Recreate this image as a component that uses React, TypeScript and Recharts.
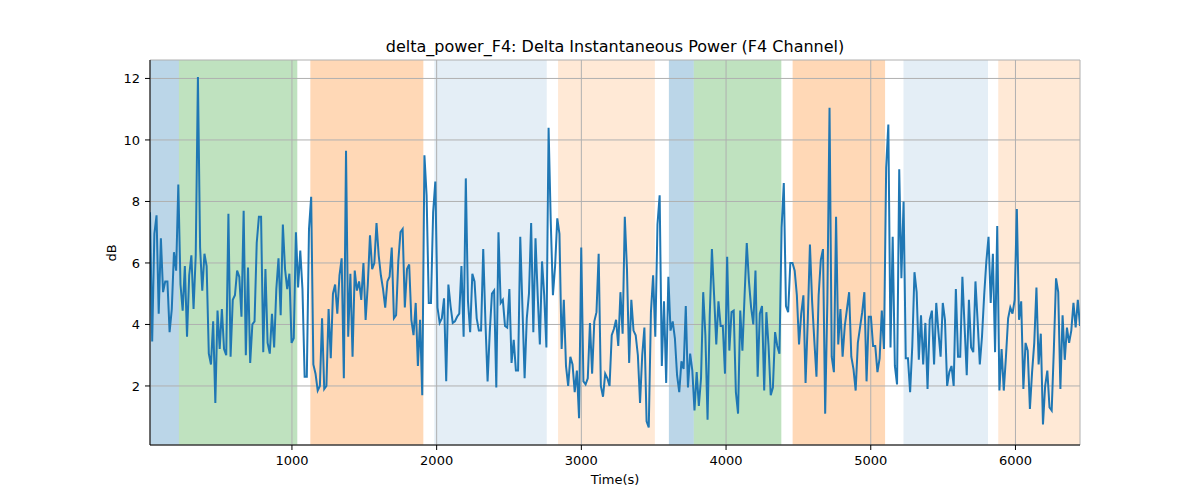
import React from 'react';
import { LineChart, Line, XAxis, YAxis, CartesianGrid, ReferenceArea } from 'recharts';

// delta power (dB) in eight chunks, left to right
const seg1 = [7.65, 3.45, 6.95, 7.55, 4.35, 6.8, 5.05, 5.4, 5.4, 3.75, 4.5, 6.35, 5.75, 8.55, 5.3, 4.45, 5.9, 3.6, 5.6, 6.25, 4.5, 6.25, 12.05, 6.5, 5.1, 6.3, 5.9, 3.05, 2.7, 4.1, 1.45, 4.45, 3.2, 4.5, 3.2, 3.0, 7.6, 2.95, 4.8, 4.95, 5.75, 5.55, 4.25, 7.7, 3.0, 5.85, 2.75, 4.0, 4.1, 6.65, 7.5, 7.5, 3.1, 5.8];
const seg2 = [3.4, 3.05, 4.35, 3.25, 5.15, 6.15, 4.3, 7.25, 5.8, 5.15, 5.65, 3.4, 3.55, 7.0, 5.2, 6.4, 5.15, 2.3, 2.3, 7.1, 8.15, 2.7, 2.4, 1.85, 2.0, 4.2, 1.9, 2.0, 4.5, 2.9, 5.0, 5.3, 4.35, 5.6, 6.15, 2.25, 9.65, 3.6, 5.65, 2.95, 5.75, 5.1, 5.4, 4.8, 6.0, 4.15, 5.3, 6.9, 5.8, 6.0, 7.3, 6.25, 5.6];
const seg3 = [5.15, 4.55, 5.4, 5.55, 6.5, 4.2, 4.3, 6.05, 7.0, 7.1, 4.55, 5.8, 5.95, 4.15, 3.65, 4.7, 2.65, 4.15, 1.7, 9.5, 8.2, 4.7, 4.7, 7.65, 8.65, 4.55, 4.05, 4.2, 4.85, 2.15, 5.3, 4.6, 4.05, 4.1, 4.25, 4.35, 5.9, 3.6, 8.75, 4.75, 3.75, 5.65, 5.4, 4.2, 3.8, 3.8, 6.45, 4.1, 2.15, 3.75, 5.0, 5.1, 1.95];
const seg4 = [7.0, 4.7, 4.8, 3.95, 3.9, 5.15, 2.75, 3.5, 2.5, 2.5, 6.85, 4.55, 2.25, 4.2, 5.0, 7.3, 3.75, 6.8, 4.95, 3.35, 6.05, 4.95, 3.25, 10.4, 7.35, 4.95, 5.9, 7.45, 6.95, 3.2, 4.8, 2.65, 2.0, 2.95, 2.7, 1.8, 2.5, 0.95, 6.5, 2.15, 2.05, 2.25, 4.05, 2.4, 4.1, 4.4, 6.3, 2.0, 1.65, 2.4, 2.25, 2.0];
const seg5 = [3.65, 3.85, 4.15, 3.3, 5.05, 3.7, 7.5, 5.8, 2.75, 4.8, 3.8, 3.65, 3.0, 1.45, 3.0, 3.9, 0.85, 0.65, 4.4, 5.6, 3.6, 7.25, 8.2, 2.65, 4.75, 2.1, 5.55, 3.8, 4.1, 3.55, 2.35, 1.8, 2.8, 2.55, 4.6, 1.95, 3.05, 2.5, 1.2, 2.45, 1.35, 2.25, 5.05, 3.65, 0.9, 4.3, 6.45, 4.95, 3.35, 4.75, 3.95, 3.95, 2.4];
const seg6 = [6.2, 3.15, 4.4, 4.45, 1.8, 1.1, 4.45, 3.15, 4.95, 6.65, 5.4, 4.55, 4.0, 5.75, 2.3, 4.35, 4.6, 1.85, 4.4, 3.3, 1.7, 1.95, 3.75, 3.3, 3.05, 7.15, 8.6, 4.6, 4.4, 6.0, 6.0, 5.75, 4.95, 3.35, 4.35, 4.95, 2.1, 4.1, 6.6, 4.75, 3.5, 2.3, 4.95, 6.1, 6.45, 1.1, 4.75, 11.05, 2.95, 2.45, 7.5, 3.35, 4.5];
const seg7 = [2.95, 3.95, 4.5, 5.05, 2.95, 2.55, 1.85, 3.4, 3.9, 4.4, 5.05, 2.15, 4.25, 4.25, 3.3, 3.3, 2.45, 2.9, 4.45, 3.2, 9.1, 10.5, 3.25, 6.85, 2.65, 2.05, 9.05, 5.5, 8.0, 2.9, 2.9, 1.8, 3.3, 5.7, 5.05, 2.85, 4.3, 2.7, 4.05, 1.9, 4.15, 4.45, 2.7, 4.7, 3.75, 2.95, 4.7, 4.15, 2.0, 2.45, 2.65, 2.0];
const seg8 = [5.15, 2.95, 2.95, 5.55, 3.95, 2.35, 4.8, 3.25, 3.1, 5.4, 4.1, 2.7, 3.6, 4.95, 6.05, 6.85, 4.7, 6.3, 3.1, 7.2, 1.85, 3.2, 1.85, 2.95, 4.2, 4.55, 4.35, 4.8, 7.75, 4.15, 4.75, 1.9, 3.4, 3.15, 1.25, 2.45, 3.4, 5.2, 2.7, 3.7, 0.75, 2.0, 2.5, 1.3, 1.2, 3.2, 5.5, 5.05, 1.9, 4.3, 2.85, 3.9, 3.4, 3.8, 4.7, 3.9, 4.8, 3.95];

const power = [...seg1, ...seg2, ...seg3, ...seg4, ...seg5, ...seg6, ...seg7, ...seg8];

// recording runs from T_START to T_END seconds, evenly sampled
const T_START = 19;
const T_END = 6446;

const xTicks = [1000, 2000, 3000, 4000, 5000, 6000];
const yTicks = [2, 4, 6, 8, 10, 12];

// shaded segments: [start, end, kind]
const spans: [number, number, string][] = [
  [19, 219, 'a'],
  [219, 1037, 'b'],
  [1127, 1908, 'c'],
  [1984, 2761, 'd'],
  [2839, 3508, 'e'],
  [3605, 3777, 'a'],
  [3777, 4382, 'b'],
  [4460, 5099, 'c'],
  [5226, 5810, 'd'],
  [5881, 6446, 'e'],
];

const spanStyle: Record<string, { fill: string; opacity: number }> = {
  a: { fill: '#1f77b4', opacity: 0.3 },
  b: { fill: '#2ca02c', opacity: 0.3 },
  c: { fill: '#ff7f0e', opacity: 0.3 },
  d: { fill: '#1f77b4', opacity: 0.12 },
  e: { fill: '#ff7f0e', opacity: 0.17 },
};

const data = power.map((v, i) => ({
  t: T_START + (i * (T_END - T_START)) / (power.length - 1),
  v,
}));

const tickStyle = { fill: '#000', fontSize: 13 };

export default function App() {
  return (
    <div style={{ position: 'absolute', left: 0, top: 0, width: 1200, height: 500, fontFamily: '"DejaVu Sans", sans-serif', background: '#fff' }}>
      <div style={{ position: 'absolute', top: 37, left: 150, width: 930, textAlign: 'center', fontSize: 16 }}>
        delta_power_F4: Delta Instantaneous Power (F4 Channel)
      </div>
      <LineChart width={1200} height={500} data={data} margin={{ top: 60, right: 120, bottom: 25, left: 100 }}>
        {spans.map(([s, e, k], i) => (
          <ReferenceArea
            key={i}
            x1={s}
            x2={e}
            fill={spanStyle[k].fill}
            fillOpacity={spanStyle[k].opacity}
            stroke="none"
            zIndex={50}
          />
        ))}
        <CartesianGrid stroke="#b0b0b0" strokeWidth={1} zIndex={150} />
        <XAxis
          dataKey="t"
          type="number"
          domain={[T_START, T_END]}
          ticks={xTicks}
          allowDataOverflow
          height={30}
          tick={tickStyle}
          tickSize={5}
          tickMargin={6}
          axisLine={{ stroke: '#000' }}
          tickLine={{ stroke: '#000' }}
        />
        <XAxis
          xAxisId="top"
          orientation="top"
          type="number"
          domain={[T_START, T_END]}
          height={0}
          tick={false}
          tickLine={false}
          axisLine={{ stroke: '#000' }}
        />
        <YAxis
          type="number"
          domain={[0.08, 12.6]}
          ticks={yTicks}
          allowDataOverflow
          width={50}
          tick={tickStyle}
          tickSize={5}
          tickMargin={5}
          axisLine={{ stroke: '#000' }}
          tickLine={{ stroke: '#000' }}
        />
        <YAxis
          yAxisId="right"
          orientation="right"
          domain={[0.08, 12.6]}
          width={0}
          tick={false}
          tickLine={false}
          axisLine={{ stroke: '#000' }}
        />
        <Line
          type="linear"
          dataKey="v"
          stroke="#1f77b4"
          strokeWidth={2}
          dot={false}
          isAnimationActive={false}
          zIndex={400}
        />
      </LineChart>
      <div style={{ position: 'absolute', top: 472, left: 150, width: 930, textAlign: 'center', fontSize: 13 }}>
        Time(s)
      </div>
      <div style={{ position: 'absolute', left: 111, top: 253, fontSize: 13, transform: 'translate(-50%, -50%) rotate(-90deg)', whiteSpace: 'nowrap' }}>
        dB
      </div>
    </div>
  );
}
